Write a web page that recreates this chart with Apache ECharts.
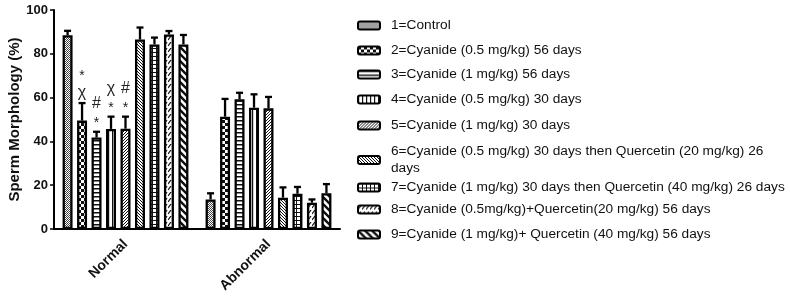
<!DOCTYPE html>
<html>
<head>
<meta charset="utf-8">
<script src="https://cdn.jsdelivr.net/npm/echarts@6/dist/echarts.min.js"></script>
<style>
  html, body { margin: 0; padding: 0; background: #fff; }
  #chart { width: 790px; height: 304px; }
</style>
</head>
<body>
<div id="chart"></div>
<script>
// data
var categories = ['Normal', 'Abnormal'];
var groupNames = [
  '1=Control',
  '2=Cyanide (0.5 mg/kg) 56 days',
  '3=Cyanide (1 mg/kg) 56 days',
  '4=Cyanide (0.5 mg/kg) 30 days',
  '5=Cyanide (1 mg/kg) 30 days',
  '6=Cyanide (0.5 mg/kg) 30 days then Quercetin (20 mg/kg) 26\ndays',
  '7=Cyanide (1 mg/kg) 30 days then Quercetin (40 mg/kg) 26 days',
  '8=Cyanide (0.5mg/kg)+Quercetin(20 mg/kg) 56 days',
  '9=Cyanide (1 mg/kg)+ Quercetin (40 mg/kg) 56 days'
];
// [Normal, Abnormal] per group
var means = [
  [88.5, 13.5],
  [49.5, 51.3],
  [41.8, 59.2],
  [45.7, 55.4],
  [45.8, 55.1],
  [86.5, 14.3],
  [84.3, 16.1],
  [88.8, 12.0],
  [84.3, 16.3]
];
var errors = [
  [2.0, 2.8],
  [8.0, 8.1],
  [2.6, 3.0],
  [5.6, 6.1],
  [5.5, 5.2],
  [5.5, 4.7],
  [3.1, 3.1],
  [1.6, 1.5],
  [4.3, 4.2]
];
// significance marks, listed bottom to top (Normal group only)
var marks = [
  [[], []],
  [['χ', '*'], []],
  [['*', '#'], []],
  [['*', 'χ'], []],
  [['*', '#'], []],
  [[], []],
  [[], []],
  [[], []],
  [[], []]
];
var yTicks = [0, 20, 40, 60, 80, 100];

// fill patterns
function pat(w, h, draw) {
  var c = document.createElement('canvas');
  c.width = w; c.height = h;
  var ctx = c.getContext('2d');
  ctx.fillStyle = '#fff';
  ctx.fillRect(0, 0, w, h);
  ctx.fillStyle = '#111';
  ctx.strokeStyle = '#111';
  draw(ctx);
  return { image: c, repeat: 'repeat' };
}
var patterns = [
  pat(2, 2, function (c) { c.fillStyle = '#444'; c.fillRect(0, 0, 1, 1); c.fillRect(1, 1, 1, 1); }),
  pat(6, 6, function (c) { c.fillRect(0, 0, 3, 3); c.fillRect(3, 3, 3, 3); }),
  pat(4, 4, function (c) { c.fillRect(0, 0, 4, 1.5); }),
  pat(4, 4, function (c) { c.fillRect(0, 0, 1.2, 4); }),
  pat(3, 3, function (c) { c.lineWidth = 1; c.beginPath(); c.moveTo(-1, 4); c.lineTo(4, -1); c.moveTo(-1, 1); c.lineTo(1, -1); c.moveTo(2, 4); c.lineTo(4, 2); c.stroke(); }),
  pat(3, 3, function (c) { c.lineWidth = 1; c.beginPath(); c.moveTo(-1, -1); c.lineTo(4, 4); c.moveTo(2, -1); c.lineTo(4, 1); c.moveTo(-1, 2); c.lineTo(1, 4); c.stroke(); }),
  pat(4, 4, function (c) { c.fillRect(0, 0, 4, 1); c.fillRect(0, 0, 1, 4); }),
  pat(4, 6, function (c) { c.lineWidth = 1.2; c.beginPath(); c.moveTo(0, 4); c.lineTo(3, 0); c.stroke(); }),
  pat(7, 7, function (c) { c.lineWidth = 2.4; c.beginPath(); c.moveTo(-1, -1); c.lineTo(8, 8); c.moveTo(-1, 6); c.lineTo(1, 8); c.moveTo(6, -1); c.lineTo(8, 1); c.stroke(); })
];

var font = '"Liberation Sans", Arial, sans-serif';
var catGapRatio = 0.12, barGapRatio = 0.45;

var series = groupNames.map(function (name, i) {
  return {
    name: name,
    type: 'bar',
    data: means[i],
    barGap: (barGapRatio * 100) + '%',
    barCategoryGap: (catGapRatio * 100) + '%',
    itemStyle: { color: patterns[i], borderColor: '#000', borderWidth: 2.3 },
    animation: false
  };
});

// error bars + marks
var errRows = [];
groupNames.forEach(function (n, i) {
  categories.forEach(function (c, j) {
    errRows.push([j, i, means[i][j], errors[i][j]]);
  });
});
series.push({
  type: 'custom',
  data: errRows,
  z: 5,
  animation: false,
  renderItem: function (params, api) {
    var cat = api.value(0), si = api.value(1), v = api.value(2), e = api.value(3);
    var n = groupNames.length;
    var band = api.size([1, 0])[0];
    var gw = band * (1 - catGapRatio);
    var bw = gw / (n + (n - 1) * barGapRatio);
    var x = api.coord([cat, 0])[0] - gw / 2 + si * bw * (1 + barGapRatio) + bw / 2;
    var yb = api.coord([cat, v])[1];
    var yt = api.coord([cat, v + e])[1];
    var st = { stroke: '#000', lineWidth: 2.3 };
    var kids = [
      { type: 'line', shape: { x1: x, y1: yb, x2: x, y2: yt }, style: st },
      { type: 'line', shape: { x1: x - 3.5, y1: yt, x2: x + 3.5, y2: yt }, style: st }
    ];
    var m = marks[si][cat];
    m.forEach(function (s, k) {
      kids.push({
        type: 'text',
        style: {
          text: s, x: x, y: yt - 2 - k * 18,
          align: 'center', verticalAlign: 'bottom',
          font: (s === '*' ? '14px ' : '16px ') + font, fill: '#222'
        }
      });
    });
    return { type: 'group', children: kids };
  }
});

var legendTops = [17, 42, 66, 91, 117, 143, 179, 201, 226];
var legends = groupNames.map(function (name, i) {
  return {
    data: [name],
    left: 357,
    top: legendTops[i],
    padding: 0,
    orient: 'vertical',
    icon: 'roundRect',
    itemWidth: 22,
    itemHeight: 8,
    itemStyle: { borderColor: '#000', borderWidth: 2 },
    selectedMode: false,
    textStyle: { fontFamily: font, fontSize: 13.7, color: '#111', padding: [0, 0, 0, 6], lineHeight: 17 }
  };
});

var option = {
  backgroundColor: '#fff',
  animation: false,
  legend: legends,
  grid: { left: 54, right: 450, top: 10, bottom: 75, containLabel: false },
  xAxis: {
    type: 'category',
    data: categories,
    axisLine: { lineStyle: { color: '#000', width: 2 } },
    axisTick: { alignWithLabel: true, length: 4, lineStyle: { color: '#000', width: 1.5 } },
    axisLabel: { rotate: 45, fontFamily: font, fontWeight: 'bold', fontSize: 14, color: '#111', margin: 13 }
  },
  yAxis: {
    type: 'value',
    min: yTicks[0],
    max: yTicks[yTicks.length - 1],
    interval: yTicks[1] - yTicks[0],
    name: 'Sperm Morphology (%)',
    nameLocation: 'middle',
    nameGap: 32,
    nameTextStyle: { fontFamily: font, fontWeight: 'bold', fontSize: 15, color: '#111' },
    splitLine: { show: false },
    axisLine: { show: true, lineStyle: { color: '#000', width: 2 } },
    axisTick: { show: true, length: 4, lineStyle: { color: '#000', width: 1.5 } },
    axisLabel: { fontFamily: font, fontWeight: 'bold', fontSize: 13, color: '#111', margin: 6 }
  },
  series: series
};

var myChart = echarts.init(document.getElementById('chart'), null, { renderer: 'canvas' });
myChart.setOption(option);
</script>
</body>
</html>
